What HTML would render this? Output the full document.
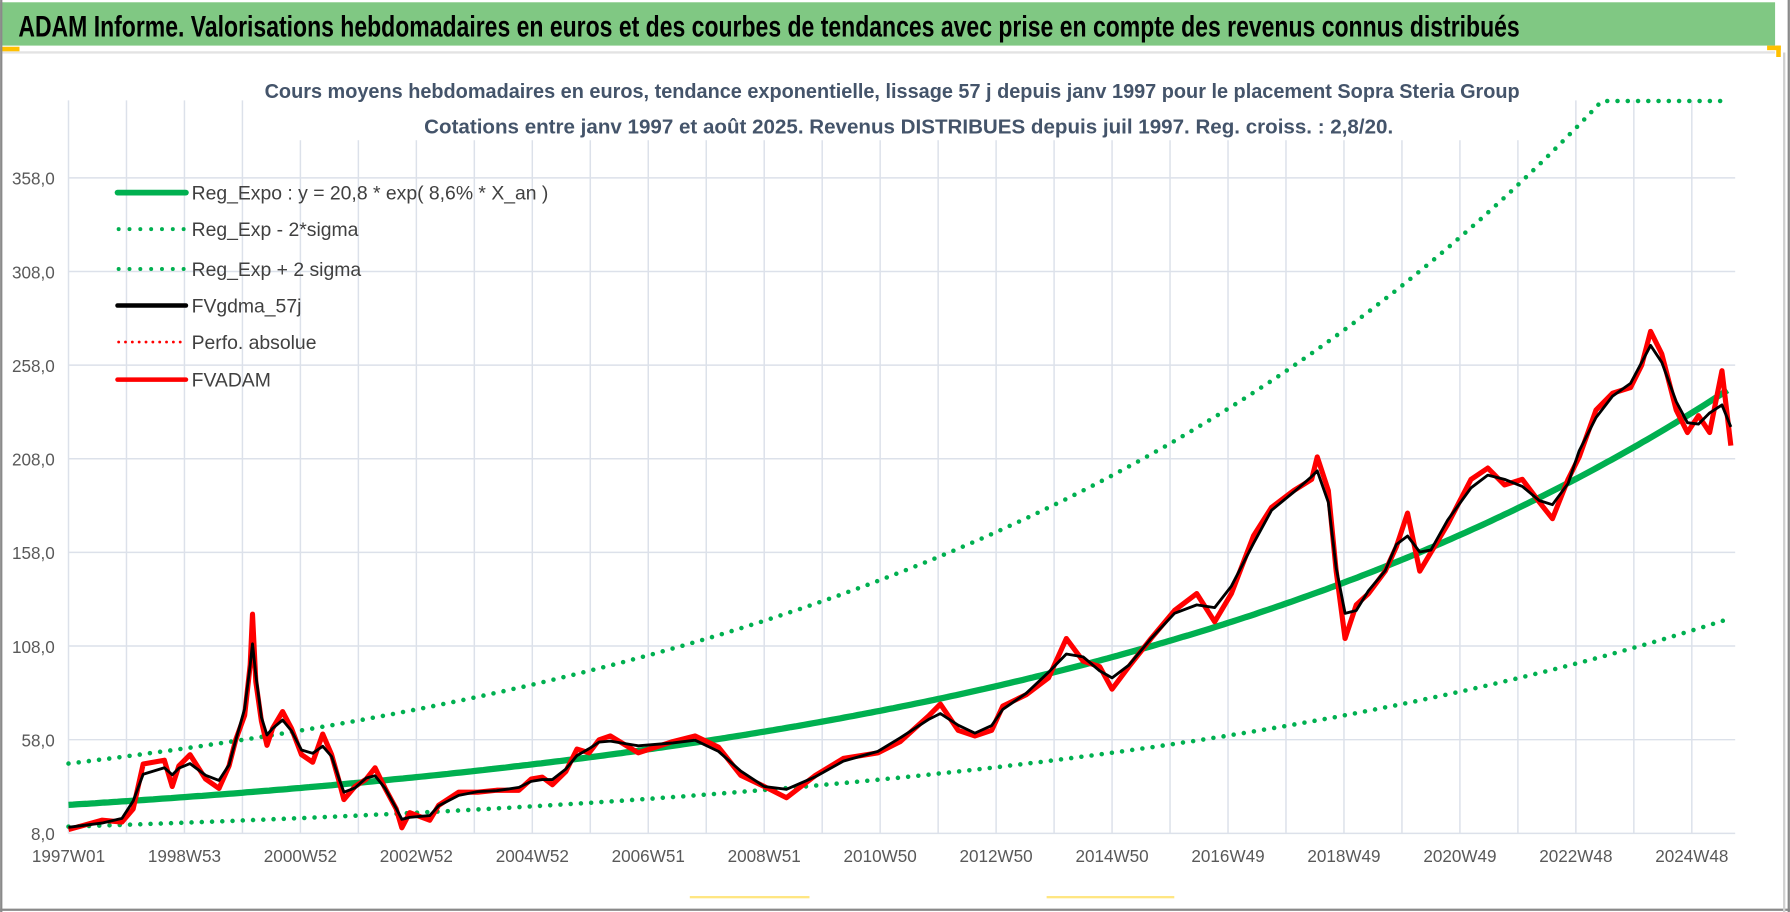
<!DOCTYPE html>
<html><head><meta charset="utf-8">
<style>html,body{margin:0;padding:0;background:#fff;}svg{display:block;font-family:"Liberation Sans",sans-serif;}</style>
</head><body>
<svg id="chart" width="1790" height="912" viewBox="0 0 1570 800" xmlns="http://www.w3.org/2000/svg">
<rect x="0" y="0" width="1570" height="800" fill="#fff"/>
<rect x="0" y="2" width="1557" height="38" fill="#80C883"/>
<text x="16" y="32" font-size="26" font-weight="bold" fill="#000" textLength="1317" lengthAdjust="spacingAndGlyphs">ADAM Informe. Valorisations hebdomadaires en euros et des courbes de tendances avec prise en compte des revenus connus distribués</text>
<line x1="0" y1="46" x2="1557" y2="46" stroke="#E3E3E3" stroke-width="2"/>
<rect x="0" y="41" width="17" height="4" fill="#FFC000"/>
<rect x="1550" y="40" width="12" height="4" fill="#FFC000"/>
<rect x="1558" y="40" width="4" height="10" fill="#FFC000"/>
<line x1="1" y1="0" x2="1" y2="800" stroke="#8A8A8A" stroke-width="2"/>
<line x1="0" y1="798" x2="1570" y2="798" stroke="#8A8A8A" stroke-width="2"/>
<line x1="1565" y1="46" x2="1565" y2="800" stroke="#D0D0D0" stroke-width="2"/>
<line x1="1569" y1="0" x2="1569" y2="800" stroke="#8A8A8A" stroke-width="2"/>
<rect x="605" y="786" width="105" height="2" fill="#FFE680"/>
<rect x="918" y="786" width="112" height="2" fill="#FFE680"/>
<g id="grid"></g>
<rect x="225" y="63" width="1115" height="60" fill="#fff"/>
<text x="232" y="86" font-size="18" font-weight="bold" fill="#44546A" textLength="1101" lengthAdjust="spacingAndGlyphs">Cours moyens hebdomadaires en euros, tendance exponentielle, lissage 57 j depuis janv 1997 pour le placement Sopra Steria Group</text>
<text x="372" y="117" font-size="18" font-weight="bold" fill="#44546A" textLength="850" lengthAdjust="spacingAndGlyphs">Cotations entre janv 1997 et août 2025. Revenus DISTRIBUES depuis juil 1997. Reg. croiss. : 2,8/20.</text>
<g id="yaxis"></g>
<g id="xaxis"></g>
<g id="series"></g>
<g id="legend">
 <g><line x1="103" y1="169" x2="163" y2="169" stroke="#00B050" stroke-width="5" stroke-linecap="round"/><text x="168" y="175" font-size="17" fill="#404040">Reg_Expo : y = 20,8 * exp( 8,6% *  X_an )</text></g>
 <g><line x1="104" y1="201" x2="163" y2="201" stroke="#00B050" stroke-width="3.5" stroke-dasharray="0 9.5" stroke-linecap="round"/><text x="168" y="207" font-size="17" fill="#404040">Reg_Exp - 2*sigma</text></g>
 <g><line x1="104" y1="236" x2="163" y2="236" stroke="#00B050" stroke-width="3.5" stroke-dasharray="0 9.5" stroke-linecap="round"/><text x="168" y="242" font-size="17" fill="#404040">Reg_Exp + 2 sigma</text></g>
 <g><line x1="103" y1="268" x2="163" y2="268" stroke="#000" stroke-width="4" stroke-linecap="round"/><text x="168" y="274" font-size="17" fill="#404040">FVgdma_57j</text></g>
 <g><line x1="104" y1="300" x2="163" y2="300" stroke="#FF0000" stroke-width="2.5" stroke-dasharray="0 6" stroke-linecap="round"/><text x="168" y="306" font-size="17" fill="#404040">Perfo. absolue</text></g>
 <g><line x1="103" y1="333" x2="163" y2="333" stroke="#FF0000" stroke-width="4" stroke-linecap="round"/><text x="168" y="339" font-size="17" fill="#404040">FVADAM</text></g>
</g>
</svg>
<script>
// ---- data ----
const yTicks = [8, 58, 108, 158, 208, 258, 308, 358];
const yTickLabels = ["8,0","58,0","108,0","158,0","208,0","258,0","308,0","358,0"];
const xLabelWeeks = [0,104,208,312,416,520,624,728,832,936,1040,1144,1248,1352,1456];
const xLabels = ["1997W01","1998W53","2000W52","2002W52","2004W52","2006W51","2008W51","2010W50","2012W50","2014W50","2016W49","2018W49","2020W49","2022W48","2024W48"];
const lastWeek = [1491];
const regParams = [23.2, 0.0826];      // a, b  (y = a*exp(b*years))
const bandFactors = [0.5, 1.95];       // lower, upper multipliers
const bandCap = [399];
const priceWeeks = [0,30,48,58,67,86,93,99,109,123,135,144,150,158,163,165,168,173,178,183,192,200,209,219,228,236,243,247,257,267,275,284,294,299,306,315,324,332,350,367,384,404,415,425,434,446,456,467,476,486,511,542,562,583,603,624,644,670,695,726,746,772,782,798,813,828,838,859,879,895,910,925,936,951,971,992,1012,1028,1043,1063,1079,1099,1115,1120,1130,1137,1145,1155,1166,1181,1191,1201,1212,1222,1237,1258,1273,1288,1304,1319,1331,1345,1355,1370,1385,1401,1411,1419,1429,1442,1452,1462,1472,1483,1491];
const priceValues = [10,15,14,21,45,47,33,44,50,37,32,44,58,71,98,125,89,68,55,64,73,64,50,46,61,50,35,26,33,37,43,32,21,11,19,17,15,23,30,30,31,31,37,38,34,41,53,51,58,60,51,57,60,54,39,33,27,39,48,51,57,71,77,63,60,63,76,82,91,112,100,97,85,97,112,127,136,121,136,167,182,191,197,209,191,148,112,130,136,148,161,179,148,158,173,197,203,194,197,185,176,197,209,234,243,246,258,276,264,234,222,231,222,255,215];

// ---- axes ----
const X0 = 60, PXW = 0.978, PLOT_R = 1522, PLOT_T = 88;
function xs(w){ return X0 + w*PXW; }
function ys(v){ return 731 - (v-8)*1.6429; }
const NS = "http://www.w3.org/2000/svg";
function mk(tag, attrs, parent){ const e=document.createElementNS(NS,tag); for(const k in attrs) e.setAttribute(k,attrs[k]); parent.appendChild(e); return e; }

const grid = document.getElementById('grid');
for(let w=0; xs(w)<=PLOT_R+1; w+=52){
  const l = mk('line',{x1:xs(w),x2:xs(w),y1:PLOT_T,y2:731,stroke:'#DCE1EA','stroke-width':1.3},grid);
  
  
}
const yaxis = document.getElementById('yaxis');
yTicks.forEach((v,i)=>{
  const l = mk('line',{x1:X0,x2:PLOT_R,y1:ys(v),y2:ys(v),stroke:'#DCE1EA','stroke-width':1.3},grid);
  
  
  const t = mk('text',{x:48,y:ys(v)+6,'text-anchor':'end','font-size':15,fill:'#595959'},yaxis);
  t.textContent = yTickLabels[i];
  
  
});
const xaxis = document.getElementById('xaxis');
xLabelWeeks.forEach((w,i)=>{
  const t = mk('text',{x:xs(w),y:756,'text-anchor':'middle','font-size':15,fill:'#595959'},xaxis);
  t.textContent = xLabels[i];
  
  
});

// ---- series ----
const series = document.getElementById('series');
function reg(w){ return regParams[0]*Math.exp(regParams[1]*w/52.18); }
let dReg='', dLo='', dHi='';
for(let w=0; w<=lastWeek[0]; w+=4){
  const c = w===0?'M':'L';
  dReg += c+xs(w).toFixed(1)+','+ys(reg(w)).toFixed(1)+' ';
  dLo += c+xs(w).toFixed(1)+','+ys(reg(w)*bandFactors[0]).toFixed(1)+' ';
  dHi += c+xs(w).toFixed(1)+','+ys(Math.min(bandCap[0],reg(w)*bandFactors[1])).toFixed(1)+' ';
}
const pLo = mk('path',{d:dLo,fill:'none',stroke:'#00B050','stroke-width':4,'stroke-dasharray':'0 9','stroke-linecap':'round'},series);


const pHi = mk('path',{d:dHi,fill:'none',stroke:'#00B050','stroke-width':4,'stroke-dasharray':'0 9','stroke-linecap':'round'},series);


const pReg = mk('path',{d:dReg,fill:'none',stroke:'#00B050','stroke-width':5.5},series);



let dRed='';
priceValues.forEach((v,i)=>{ dRed += (i?'L':'M')+xs(priceWeeks[i]).toFixed(1)+','+ys(v).toFixed(1)+' '; });
const pRed = mk('path',{d:dRed,fill:'none',stroke:'#FF0000','stroke-width':4.5,'stroke-linejoin':'round'},series);



let dBlk='';
priceValues.forEach((v,i)=>{
  const a = priceValues[Math.max(0,i-1)], b = priceValues[Math.min(priceValues.length-1,i+1)];
  const s = (a+2*v+b)/4;
  dBlk += (i?'L':'M')+xs(priceWeeks[i]).toFixed(1)+','+ys(s).toFixed(1)+' ';
});
const pBlk = mk('path',{d:dBlk,fill:'none',stroke:'#000','stroke-width':2.5,'stroke-linejoin':'round'},series);


</script>
</body></html>
